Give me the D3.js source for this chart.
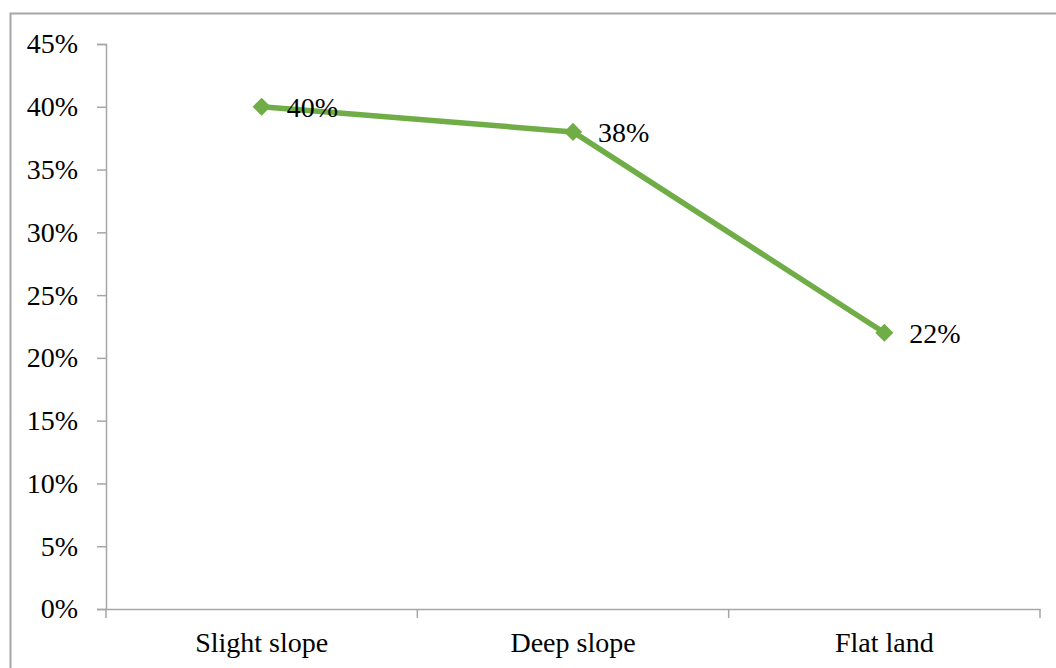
<!DOCTYPE html>
<html><head><meta charset="utf-8">
<script src="https://cdn.jsdelivr.net/npm/d3@7"></script>
<style>body{margin:0;background:#fff}svg{display:block}</style>
</head><body>
<script>
const categories = ["Slight slope", "Deep slope", "Flat land"];
const values = [0.40, 0.38, 0.22];
const yTicks = [0, 0.05, 0.10, 0.15, 0.20, 0.25, 0.30, 0.35, 0.40, 0.45];

const W = 1056, H = 668;
const svg = d3.select("body").append("svg").attr("width", W).attr("height", H);
svg.append("rect").attr("x", 10.5).attr("y", 13.5).attr("width", W + 20).attr("height", H + 20)
  .attr("fill", "none").attr("stroke", "#a6a6a6").attr("stroke-width", 2);

const mLeft = 106, mRight = 1040, mTop = 44, mBottom = 609;
const x = d3.scaleBand().domain(categories).range([mLeft, mRight]);
const y = d3.scaleLinear().domain([0, 0.45]).range([mBottom, mTop]);
const font = "'Liberation Serif', 'Times New Roman', serif";
const axisColor = "#a6a6a6";
const fs = 28;

const ya = svg.append("g").attr("transform", `translate(${mLeft},0)`)
  .call(d3.axisLeft(y).tickValues(yTicks).tickFormat(d3.format(".0%")).tickSize(9).tickPadding(19));
const xa = svg.append("g").attr("transform", `translate(0,${mBottom})`)
  .call(d3.axisBottom(x).tickSize(0).tickPadding(23));
const bounds = categories.map(c => x(c)).concat([mRight]);
xa.selectAll(".bt").data(bounds).enter().append("line")
  .attr("x1", d => d).attr("x2", d => d).attr("y1", 0).attr("y2", 9)
  .attr("stroke", axisColor).attr("stroke-width", 1.5);
[ya, xa].forEach(a => {
  a.select(".domain").attr("stroke", axisColor).attr("stroke-width", 1.5);
  a.selectAll(".tick line").attr("stroke", axisColor).attr("stroke-width", 1.5);
  a.selectAll("text").attr("font-family", font).attr("font-size", fs).attr("fill", "#000");
});

const cx = d => x(d) + x.bandwidth() / 2;
const pts = categories.map((c, i) => [cx(c), y(values[i])]);
const green = "#70AD47";
svg.append("path").attr("d", d3.line()(pts)).attr("fill", "none")
  .attr("stroke", green).attr("stroke-width", 5.5).attr("stroke-linejoin", "round");
svg.selectAll(".m").data(pts).enter().append("path")
  .attr("d", d3.symbol(d3.symbolDiamond2, 210)())
  .attr("transform", d => `translate(${d[0]},${d[1]})`).attr("fill", green);
svg.selectAll(".lbl").data(values).enter().append("text")
  .attr("x", (d, i) => pts[i][0] + 25).attr("y", (d, i) => pts[i][1] + 10)
  .attr("font-family", font).attr("font-size", fs).attr("fill", "#000")
  .text(d => d3.format(".0%")(d));
</script>
</body></html>
